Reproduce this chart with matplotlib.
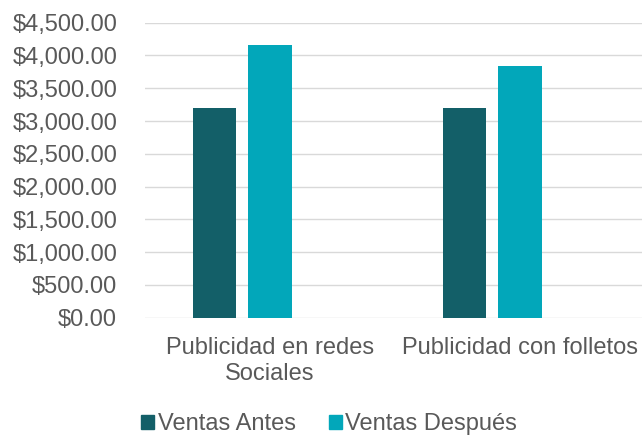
import matplotlib.pyplot as plt
from matplotlib.patches import Patch
from matplotlib.ticker import FuncFormatter

plt.rcParams['font.family'] = ['Liberation Sans', 'DejaVu Sans']

categorias = ['Publicidad en redes\nSociales', 'Publicidad con folletos']
series = ['Ventas Antes', 'Ventas Después']
ventas_antes = [3200, 3200]
ventas_despues = [4160, 3840]
colores = ['#135F68', '#02A7BA']

fig = plt.figure(figsize=(6.42, 4.36), dpi=100)
ax = fig.add_axes([145 / 642, 1 - 317.7 / 436, 500 / 642, 295 / 436])

x = list(range(len(categorias)))
ancho = 0.174
paso = 0.222
ax.bar([i - paso for i in x], ventas_antes, width=ancho, color=colores[0], zorder=3)
ax.bar(x, ventas_despues, width=ancho, color=colores[1], zorder=3)

ax.set_xlim(-0.5, 1.5)
ax.set_ylim(0, 4500)
ax.set_yticks(range(0, 4501, 500))
ax.yaxis.set_major_formatter(FuncFormatter(lambda v, p: '${:,.2f}'.format(v)))
ax.set_xticks(x)
ax.set_xticklabels(categorias, linespacing=1.2)
ax.tick_params(axis='both', length=0, labelsize=17, colors='#595959')
ax.tick_params(axis='y', pad=20)
ax.tick_params(axis='x', pad=14)
ax.grid(axis='y', color='#D9D9D9', linewidth=1.0, zorder=0)
for s in ax.spines.values():
    s.set_visible(False)

handles = [Patch(color=c) for c in colores]
fig.legend(handles, series, loc='center', bbox_to_anchor=(329 / 642, 1 - 424 / 436),
           ncol=2, frameon=False, fontsize=17, labelcolor='#595959',
           handlelength=0.55, handleheight=0.55, handletextpad=0.15, columnspacing=1.4)

fig.savefig('out.png', dpi=100)
